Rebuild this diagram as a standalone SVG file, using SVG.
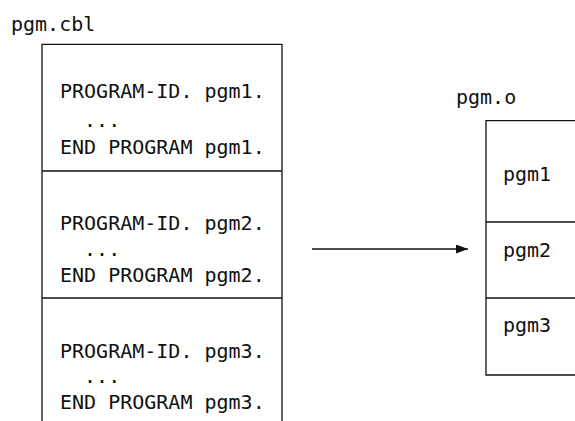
<svg xmlns="http://www.w3.org/2000/svg" width="575" height="421" viewBox="0 0 575 421">
<style>
  .t { font-family: "DejaVu Sans Mono", "Liberation Mono", monospace; font-size: 20px; fill: #111; }
  .ln { stroke: #111; stroke-width: 1.3; fill: none; }
</style>
<defs>
  <marker id="ah" markerWidth="13" markerHeight="10" refX="12" refY="4.5" orient="auto" markerUnits="userSpaceOnUse">
    <path d="M0,0 L12,4.5 L0,9 Z" fill="#111"/>
  </marker>
</defs>
<rect width="575" height="421" fill="#fff"/>
<g id="label-cbl"><text class="t" x="11" y="31">pgm.cbl</text></g>
<g id="src-box">
  <path class="ln" d="M42,425 V44.3 H282 V425 M42,171 H282 M42,298 H282"/>
</g>
<g id="src-pgm1">
  <text class="t" x="60" y="98">PROGRAM-ID. pgm1.</text>
  <text class="t" x="60" y="127" xml:space="preserve">  ...</text>
  <text class="t" x="60" y="154">END PROGRAM pgm1.</text>
</g>
<g id="src-pgm2">
  <text class="t" x="60" y="230">PROGRAM-ID. pgm2.</text>
  <text class="t" x="60" y="256" xml:space="preserve">  ...</text>
  <text class="t" x="60" y="282">END PROGRAM pgm2.</text>
</g>
<g id="src-pgm3">
  <text class="t" x="60" y="358">PROGRAM-ID. pgm3.</text>
  <text class="t" x="60" y="383" xml:space="preserve">  ...</text>
  <text class="t" x="60" y="409">END PROGRAM pgm3.</text>
</g>
<g id="connectors">
  <line class="ln" x1="312" y1="249" x2="468" y2="249" marker-end="url(#ah)"/>
</g>
<g id="label-o"><text class="t" x="456" y="104">pgm.o</text></g>
<g id="obj-box">
  <path class="ln" d="M580,120.7 H486 V375 H580 M486,222 H580 M486,298 H580"/>
</g>
<g id="obj-pgm1"><text class="t" x="503" y="181">pgm1</text></g>
<g id="obj-pgm2"><text class="t" x="503" y="257">pgm2</text></g>
<g id="obj-pgm3"><text class="t" x="503" y="332">pgm3</text></g>
</svg>
